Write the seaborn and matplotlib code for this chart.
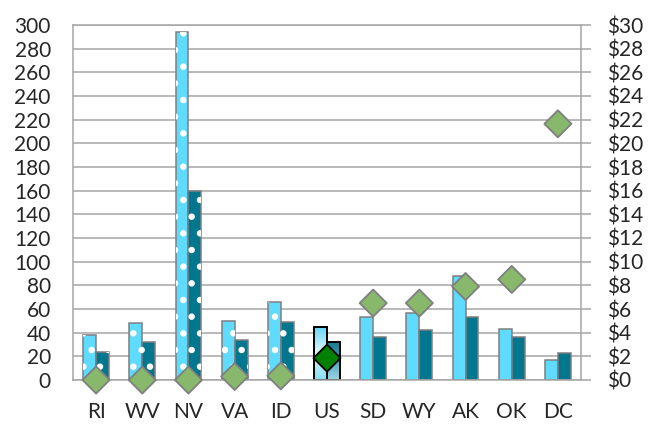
import matplotlib
matplotlib.use("Agg")
import matplotlib.pyplot as plt
import matplotlib.patches as mpatches
import numpy as np
import pandas as pd
import seaborn as sns

# values
STATES = ["RI", "WV", "NV", "VA", "ID", "US", "SD", "WY", "AK", "OK", "DC"]
SERIES_A = [38, 48, 294, 50, 66, 45, 53, 57, 88, 43, 17]
SERIES_B = [24, 32, 160, 34, 49, 32, 36, 42, 53, 36, 23]
PRICE = [0.0, 0.0, 0.0, 0.3, 0.35, 1.85, 6.5, 6.5, 7.9, 8.5, 21.65]
PATTERNED = ["RI", "WV", "NV", "VA", "ID"]
HIGHLIGHT = "US"

LEFT_TICKS = list(range(0, 301, 20))
RIGHT_TICKS = list(range(0, 31, 2))

LIGHT = "#5FDBFF"
DARK = "#00768F"
EDGE = "#7F7F7F"
GRID = "#A6A6A6"
DIAMOND = "#87B86B"
DIAMOND_US = "#008000"


def add_gradient(ax, patch, top_color, mid_color, bottom_color):
    x, y = patch.get_x(), patch.get_y()
    w, h = patch.get_width(), patch.get_height()
    cmap = matplotlib.colors.LinearSegmentedColormap.from_list(
        "g", [bottom_color, mid_color, top_color])
    grad = np.linspace(0, 1, 64).reshape(-1, 1)
    im = ax.imshow(grad, cmap=cmap, origin="lower", aspect="auto",
                   extent=[x, x + w, y, y + h], zorder=patch.get_zorder() - 0.1)
    im.set_clip_path(patch)
    patch.set_facecolor("none")


def main():
    sns.set_style("white")
    plt.rcParams["font.family"] = ["Lato", "DejaVu Sans"]
    plt.rcParams["hatch.linewidth"] = 2.2

    df = pd.DataFrame({
        "state": STATES * 2,
        "value": SERIES_A + SERIES_B,
        "series": ["a"] * len(STATES) + ["b"] * len(STATES),
    })

    fig = plt.figure(figsize=(6.51, 4.24), dpi=100)
    ax = fig.add_axes([73 / 651, 1 - 380 / 424, 508 / 651, 355 / 424])

    sns.barplot(data=df, x="state", y="value", hue="series", order=STATES,
                palette=[LIGHT, DARK], width=0.56, gap=0, legend=False,
                edgecolor=EDGE, linewidth=1.1, saturation=1, ax=ax, zorder=2)

    # white dotted fill on the first five states
    for container in ax.containers:
        for name, patch in zip(STATES, container.patches):
            if name in PATTERNED:
                over = mpatches.Rectangle((patch.get_x(), patch.get_y()),
                                          patch.get_width(), patch.get_height(),
                                          facecolor="none", edgecolor="white",
                                          linewidth=0, hatch=".", zorder=2.5)
                ax.add_patch(over)
    us = STATES.index(HIGHLIGHT)
    light_us = ax.containers[0].patches[us]
    dark_us = ax.containers[1].patches[us]
    add_gradient(ax, light_us, "#62D6F6", "#E4F7FD", "#86DDF3")
    add_gradient(ax, dark_us, "#17798F", "#4FA6BC", "#9CD4E2")
    for p in (light_us, dark_us):
        p.set_edgecolor("black")
        p.set_linewidth(1.4)

    ax.set_xlim(-0.5, len(STATES) - 0.5)
    ax.set_ylim(0, 300)
    ax.set_yticks(LEFT_TICKS)
    ax.set_xlabel("")
    ax.set_ylabel("")
    ax.grid(axis="y", color=GRID, linewidth=1.1, zorder=0)
    ax.set_axisbelow(True)
    ax.tick_params(axis="y", length=0, pad=16, labelsize=15)
    ax.tick_params(axis="x", length=0, pad=16, labelsize=15)
    for side in ["left", "bottom", "top"]:
        ax.spines[side].set_color(GRID)
        ax.spines[side].set_linewidth(1.1)
    ax.spines["right"].set_visible(False)

    ax2 = ax.twinx()
    ax2.set_ylim(0, 30)
    positions = np.arange(len(STATES))
    colors = {s: (DIAMOND_US if s == HIGHLIGHT else DIAMOND) for s in STATES}
    edges = ["black" if s == HIGHLIGHT else EDGE for s in STATES]
    sns.scatterplot(x=positions, y=PRICE, hue=STATES, palette=colors,
                    marker="D", s=190, edgecolor=edges, linewidth=1.3,
                    legend=False, clip_on=False, zorder=5, ax=ax2)
    ax2.set_xlim(-0.5, len(STATES) - 0.5)
    ax2.set_yticks(RIGHT_TICKS)
    ax2.set_yticklabels([f"${t}" for t in RIGHT_TICKS])
    ax2.tick_params(axis="y", length=7, width=1.1, color=GRID, pad=12, labelsize=15)
    for side in ["left", "bottom", "top"]:
        ax2.spines[side].set_visible(False)
    ax2.spines["right"].set_color(GRID)
    ax2.spines["right"].set_linewidth(1.1)
    ax2.set_xlabel("")
    ax2.set_ylabel("")

    ax.set_xticks(positions)
    ax.set_xticklabels(STATES)

    fig.savefig("out.png", dpi=100)
    plt.close(fig)


if __name__ == "__main__":
    main()
